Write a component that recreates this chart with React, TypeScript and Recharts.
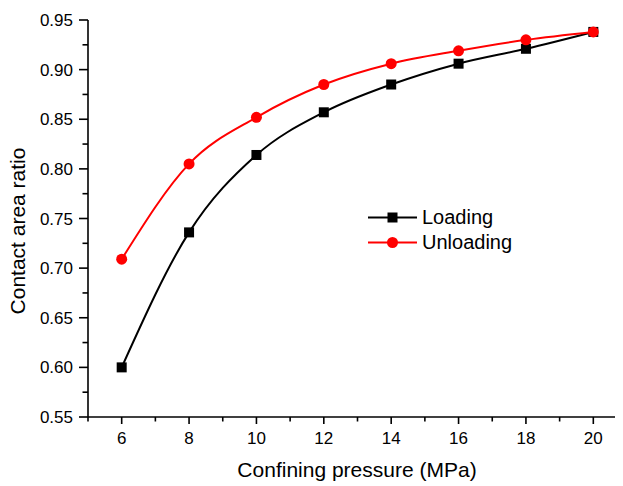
import { ComposedChart, Line, XAxis, YAxis } from 'recharts';

// confining pressure (MPa)
const pressure = [6, 8, 10, 12, 14, 16, 18, 20];
const loading = [0.600, 0.736, 0.814, 0.857, 0.885, 0.906, 0.921, 0.938];
const unloading = [0.709, 0.805, 0.852, 0.885, 0.906, 0.919, 0.930, 0.938];

const xTicks = [6, 8, 10, 12, 14, 16, 18, 20];
const xMinorTicks = [5, 7, 9, 11, 13, 15, 17, 19];
const yTicks = [0.55, 0.6, 0.65, 0.7, 0.75, 0.8, 0.85, 0.9, 0.95];
const yMinorTicks = [0.575, 0.625, 0.675, 0.725, 0.775, 0.825, 0.875, 0.925];
const topTicks = [0, 1, 2, 3, 4, 5, 6, 7, 8, 9, 10];

const data = pressure.map((p, i) => ({ p, loading: loading[i], unloading: unloading[i] }));

const series = [
  { key: 'loading', name: 'Loading', color: '#000000', marker: 'square' },
  { key: 'unloading', name: 'Unloading', color: '#ff0000', marker: 'circle' },
];

const FONT = '"Liberation Sans", Arial, sans-serif';
const AXIS = '#000';
const SW = 1.6;

const allX = [...xTicks, ...xMinorTicks].sort((a, b) => a - b);
const allY = [...yTicks, ...yMinorTicks].sort((a, b) => a - b);
const isMajorY = (v: number) => yTicks.some((t) => Math.abs(t - v) < 1e-6);

function Marker({ cx, cy, kind, color }: { cx: number; cy: number; kind: string; color: string }) {
  if (kind === 'square') return <rect x={cx - 5} y={cy - 5} width={10} height={10} fill={color} />;
  return <circle cx={cx} cy={cy} r={5.5} fill={color} />;
}

// tick line + label drawn together so major / minor can differ in length
function XTick({ x, y, payload }: any) {
  const major = xTicks.includes(payload.value);
  return (
    <g>
      <line x1={x} y1={y} x2={x} y2={y + (major ? 7 : 4.5)} stroke={AXIS} strokeWidth={SW} />
      {major && (
        <text x={x} y={y + 15} dy="0.71em" textAnchor="middle" fontSize={17} fontFamily={FONT} fill="#000">
          {payload.value}
        </text>
      )}
    </g>
  );
}

function YTick({ x, y, payload }: any) {
  const major = isMajorY(payload.value);
  return (
    <g>
      <line x1={x} y1={y} x2={x - (major ? 9 : 5.5)} y2={y} stroke={AXIS} strokeWidth={SW} />
      {major && (
        <text x={x - 15} y={y} dy="0.355em" textAnchor="end" fontSize={17} fontFamily={FONT} fill="#000">
          {payload.value.toFixed(2)}
        </text>
      )}
    </g>
  );
}

function TopTick({ x, y }: any) {
  return <line x1={x} y1={y} x2={x} y2={y + 3} stroke={AXIS} strokeWidth={SW} />;
}

function LegendBox() {
  return (
    <div style={{ position: 'absolute', left: 368, top: 204.5, fontFamily: FONT, fontSize: 20, color: '#000' }}>
      {series.map((s) => (
        <div key={s.key} style={{ display: 'flex', alignItems: 'center', height: 25 }}>
          <svg width={50} height={25} style={{ display: 'block' }}>
            <line x1={0} y1={12.5} x2={49} y2={12.5} stroke={s.color} strokeWidth={2} />
            <Marker cx={24.5} cy={12.5} kind={s.marker} color={s.color} />
          </svg>
          <span style={{ marginLeft: 4, lineHeight: '25px' }}>{s.name}</span>
        </div>
      ))}
    </div>
  );
}

export default function App() {
  return (
    <div style={{ position: 'relative', margin: '-8px 0 0 -8px', width: 623, height: 486, overflow: 'hidden' }}>
      <ComposedChart width={640} height={486} data={data}
        margin={{ top: 20, right: 13, bottom: 0, left: 18 }}>
        <XAxis xAxisId="x" dataKey="p" type="number" domain={[5, 21]} ticks={allX} interval={0}
          height={69} tick={<XTick />} tickSize={0} tickMargin={0} tickLine={false}
          axisLine={{ stroke: AXIS, strokeWidth: SW }}
          label={{
            content: () => (
              <text x={357} y={477} textAnchor="middle" fontSize={21} fontFamily={FONT} fill="#000">
                Confining pressure (MPa)
              </text>
            ),
          }} />
        <XAxis xAxisId="top" orientation="top" type="number" domain={[0, 10]} ticks={topTicks} interval={0}
          height={0} tick={<TopTick />} tickSize={0} tickMargin={0} tickLine={false}
          axisLine={{ stroke: AXIS, strokeWidth: SW }} />

        <YAxis yAxisId="y" type="number" domain={[0.55, 0.95]} ticks={allY} interval={0} width={70}
          tick={<YTick />} tickSize={0} tickMargin={0} tickLine={false}
          axisLine={{ stroke: AXIS, strokeWidth: SW }}
          label={{
            content: () => (
              <text transform="translate(25,231) rotate(-90)" textAnchor="middle" fontSize={21}
                fontFamily={FONT} fill="#000">
                Contact area ratio
              </text>
            ),
          }} />

        {series.map((s) => (
          <Line key={s.key} xAxisId="x" yAxisId="y" type="monotone" dataKey={s.key} name={s.name}
            stroke={s.color} strokeWidth={2} isAnimationActive={false}
            dot={(props: any) => (
              <Marker key={`${s.key}-${props.index}`} cx={props.cx} cy={props.cy} kind={s.marker} color={s.color} />
            )} />
        ))}
      </ComposedChart>
      <LegendBox />
    </div>
  );
}
